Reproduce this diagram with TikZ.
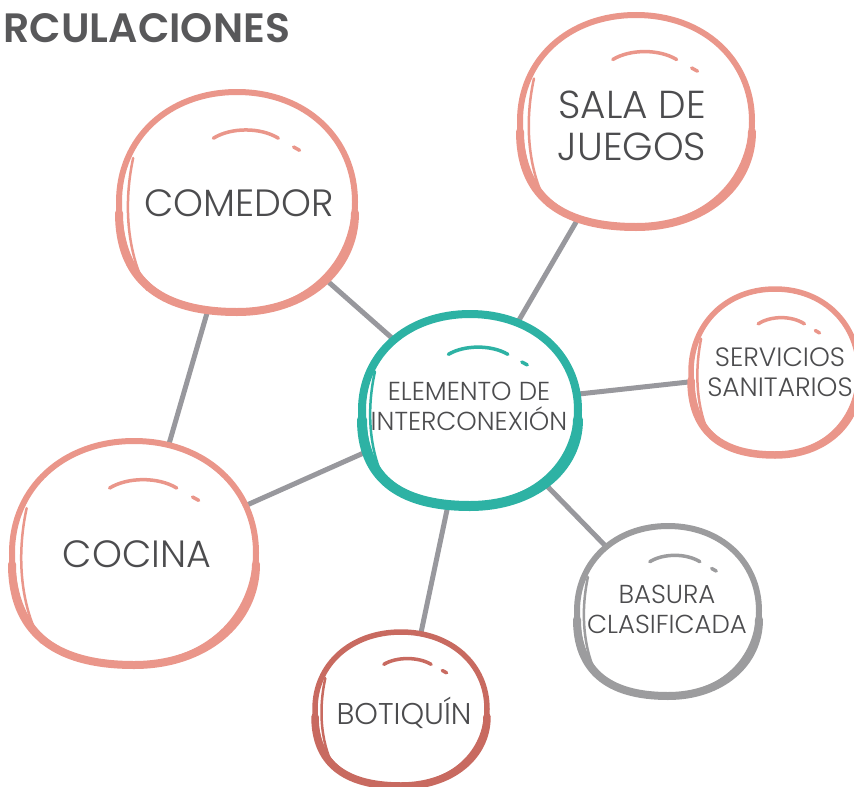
\documentclass[tikz,border=0pt]{standalone}
\usepackage{fontspec}
\setsansfont{Poppins}[UprightFont=* Light, BoldFont=* SemiBold]
\usepackage{tikz}
\usetikzlibrary{
  shapes.geometric,
  backgrounds,
}
\definecolor{cirSalmon}{RGB}{234, 150, 138}
\definecolor{cirBrick} {RGB}{200, 106,  96}
\definecolor{cirTeal}  {RGB}{ 45, 178, 164}
\definecolor{cirStone} {RGB}{156, 156, 158}
\definecolor{cirLink}  {RGB}{152, 152, 157}
\definecolor{cirInk}   {RGB}{ 76,  76,  78}
\definecolor{cirTitle} {RGB}{ 88,  88,  90}

\begin{document}
\begin{tikzpicture}[
  x=1pt, y=-1pt,
  lbl/.style  ={shape=ellipse, inner sep=0pt, align=center, text=cirInk,
                font=\sffamily\fontsize{38}{42}\selectfont},
  lblsm/.style={lbl, font=\sffamily\fontsize{26.5}{30}\selectfont},
  link/.style ={line width=5pt, color=cirLink},
]
  \useasboundingbox (0,0) rectangle (854,787);

  % Hand drawn bubbles: centre x / centre y / radius x / radius y / colour / pen
  \foreach \cx/\cy/\rx/\ry/\col/\pen in {
      237/202/118/110/cirSalmon/6,
      636/121/116/106/cirSalmon/6,
      470/410/108/96/cirTeal/8,
      775/372/84/83/cirSalmon/5.5,
      134/553/122/112/cirSalmon/6,
      401/709/86/77/cirBrick/5.5,
      668/611/91/85/cirStone/6}{
    \begin{scope}[shift={(\cx,\cy)}, xscale=\rx, yscale=\ry]
      \filldraw[fill=white, draw=\col, line width=\pen pt]
        (1,0) .. controls (1,0.58) and (0.58,1) .. (0,1)
        .. controls (-0.68,1) and (-1,0.68) .. (-1,0)
        .. controls (-1,-0.58) and (-0.58,-1) .. (0,-1)
        .. controls (0.58,-1) and (1,-0.58) .. (1,0) -- cycle;
      % heavier pen along the bottom
      \draw[\col, line width=\pen pt + 2pt, line cap=round]
        (1,0.1) .. controls (1,0.62) and (0.58,1) .. (0,1)
        .. controls (-0.68,1) and (-1,0.68) .. (-1,0.1);
      % second pen stroke, ending in the tail at the lower left
      \draw[\col, line width=2.5pt, line cap=round]
        (-0.88,-0.4) .. controls (-0.97,0.05) and (-0.92,0.5) .. (-0.76,0.8);
      % highlight
      \draw[\col, line width=3.5pt, line cap=round]
        (-0.2,-0.58) .. controls (-0.05,-0.68) and (0.2,-0.68) .. (0.35,-0.58);
      \draw[\col, line width=3.5pt, line cap=round] (0.48,-0.5) -- (0.53,-0.47);
    \end{scope}
  }

  \node[font=\sffamily\bfseries\fontsize{41}{48}\selectfont, text=cirTitle,
        anchor=base west] (title) at (0,42) {RCULACIONES};

  \node[lbl] (comedor) at (239,203) {COMEDOR};
  \node[lbl, font=\sffamily\fontsize{39}{42}\selectfont]
             (sala)    at (632,126) {SALA DE\\JUEGOS};
  \node[lbl, font=\sffamily\fontsize{26}{30}\selectfont]
             (elem)    at (469,406) {ELEMENTO DE\\INTERCONEXIÓN};
  \node[lblsm] (serv)  at (780,372) {SERVICIOS\\SANITARIOS};
  \node[lbl] (cocina)  at (137,554) {COCINA};
  \node[lbl, font=\sffamily\fontsize{30}{30}\selectfont]
             (botiq)   at (404,713) {BOTIQUÍN};
  \node[lbl, font=\sffamily\fontsize{26}{30}\selectfont]
             (basura)  at (667,609) {BASURA\\CLASIFICADA};

  % Connectors run under the white bubbles
  \begin{pgfonlayer}{background}
    \draw[link] (comedor.center) -- (cocina.center);
    \draw[link] (comedor.center) -- (elem.center);
    \draw[link] (cocina.center)  -- (elem.center);
    \draw[link] (sala.center)    -- (elem.center);
    \draw[link] (elem.center)    -- (serv.center);
    \draw[link] (elem.center)    -- (basura.center);
    \draw[link] (elem.center)    -- (botiq.center);
  \end{pgfonlayer}
\end{tikzpicture}
\end{document}
